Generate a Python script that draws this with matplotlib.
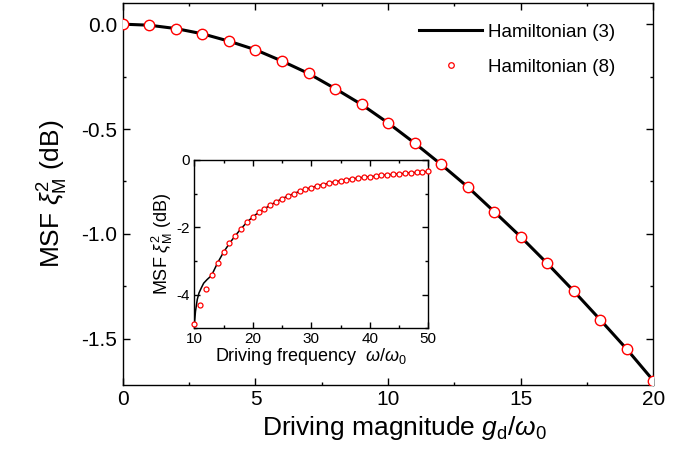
import matplotlib
matplotlib.use("Agg")
import matplotlib.pyplot as plt
from matplotlib.lines import Line2D
from matplotlib.ticker import MultipleLocator

plt.rcParams["font.family"] = ["Liberation Sans", "DejaVu Sans"]
plt.rcParams["mathtext.fontset"] = "custom"
plt.rcParams["mathtext.rm"] = "Liberation Sans"
plt.rcParams["mathtext.it"] = "Liberation Sans:italic"
plt.rcParams["axes.unicode_minus"] = False

# main panel: MSF vs driving magnitude
g_d = list(range(21))
msf_main = [0.0, -0.005, -0.021, -0.046, -0.081, -0.122, -0.176, -0.235,
            -0.307, -0.383, -0.471, -0.567, -0.669, -0.776, -0.894, -1.014,
            -1.141, -1.273, -1.41, -1.55, -1.70]

# inset: MSF vs driving frequency
omega = list(range(10, 51))
msf_inset = [-4.88, -4.32, -3.82, -3.41, -3.05, -2.74, -2.48, -2.25, -2.04,
             -1.85, -1.69, -1.56, -1.45, -1.34, -1.24, -1.15, -1.07, -1.00,
             -0.93, -0.87, -0.82, -0.77, -0.73, -0.69, -0.65, -0.62, -0.59,
             -0.56, -0.54, -0.51, -0.50, -0.48, -0.46, -0.44, -0.43, -0.41,
             -0.40, -0.38, -0.37, -0.36, -0.34]
# the Hamiltonian (3) curve departs from the points near omega = 10..13
omega_line = [10, 10.2, 10.5, 10.8, 11.2, 11.6, 12.2, 12.7] + omega[3:]
msf_line = [-4.9, -4.5, -4.15, -3.95, -3.8, -3.66, -3.55, -3.47] + msf_inset[3:]


def style_ticks(a, major, minor, width=1.0):
    a.tick_params(which="both", direction="in", top=True, right=True, width=width)
    a.tick_params(which="major", length=major)
    a.tick_params(which="minor", length=minor)
    for s in a.spines.values():
        s.set_linewidth(width)


fig = plt.figure(figsize=(6.9, 4.55), dpi=100)

ax = fig.add_axes([0.178, 0.154, 0.769, 0.839])
ax.plot(g_d, msf_main, color="k", lw=2.2, zorder=2)
ax.plot(g_d, msf_main, ls="none", marker="o", ms=7.5, mfc="white", mec="red",
        mew=1.0, zorder=3)
ax.set_xlim(0, 20)
ax.set_ylim(-1.72, 0.1)
ax.xaxis.set_major_locator(MultipleLocator(5))
ax.xaxis.set_minor_locator(MultipleLocator(2.5))
ax.yaxis.set_major_locator(MultipleLocator(0.5))
ax.yaxis.set_minor_locator(MultipleLocator(0.25))
ax.set_yticks([0.0, -0.5, -1.0, -1.5])
ax.set_yticklabels(["0.0", "-0.5", "-1.0", "-1.5"])
style_ticks(ax, 5, 2.5)
ax.tick_params(labelsize=15, pad=4)
ax.set_xlabel(r"Driving magnitude $g_{\rm d}/\omega_0$", fontsize=19, labelpad=3)
ax.xaxis.label.set_x(0.53)
ax.set_ylabel(r"MSF $\xi^2_{\rm M}$ (dB)", fontsize=19, labelpad=8)

handles = [Line2D([], [], color="k", lw=2.2),
           Line2D([], [], ls="none", marker="o", ms=4, mfc="white", mec="red", mew=0.9)]
ax.legend(handles, ["Hamiltonian (3)", "Hamiltonian (8)"], loc="upper right",
          bbox_to_anchor=(0.96, 0.99), frameon=False, fontsize=13.5,
          handlelength=3.4, handletextpad=0.3, labelspacing=0.95)

ins = fig.add_axes([0.2816, 0.2785, 0.3391, 0.3699])
ins.plot(omega_line, msf_line, color="k", lw=1.1, zorder=2)
ins.plot(omega, msf_inset, ls="none", marker="o", ms=3.6, mfc="white", mec="red",
         mew=0.9, zorder=3, clip_on=False)
ins.set_xlim(10, 50)
ins.set_ylim(-5, 0)
ins.xaxis.set_major_locator(MultipleLocator(10))
ins.xaxis.set_minor_locator(MultipleLocator(5))
ins.yaxis.set_major_locator(MultipleLocator(2))
ins.yaxis.set_minor_locator(MultipleLocator(1))
style_ticks(ins, 4, 2)
ins.tick_params(labelsize=11, pad=3)
ins.set_xlabel(r"Driving frequency  $\omega/\omega_0$", fontsize=13, labelpad=0)
ins.set_ylabel(r"MSF $\xi^2_{\rm M}$ (dB)", fontsize=13, labelpad=1)

fig.savefig("out.png", dpi=100)
